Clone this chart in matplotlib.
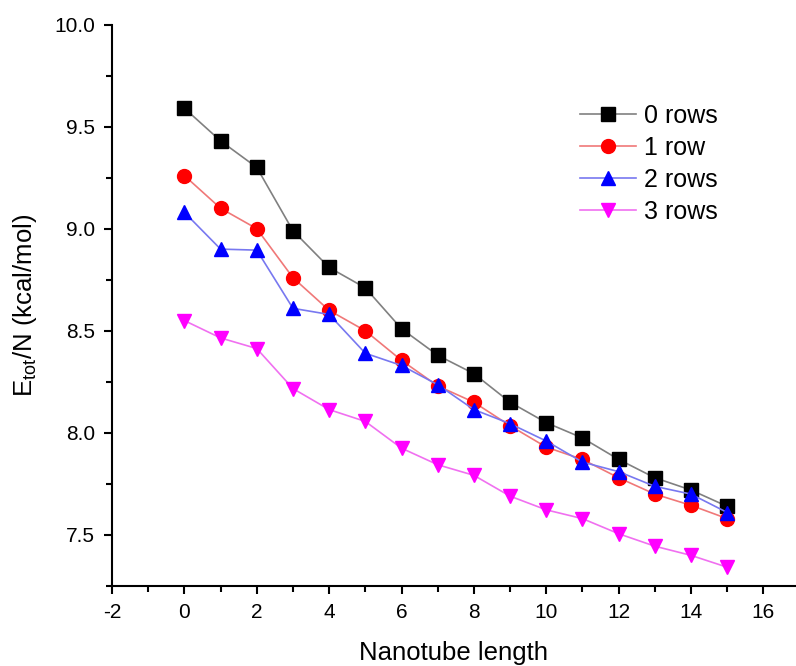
import matplotlib
matplotlib.use("Agg")
import matplotlib.pyplot as plt
from matplotlib.ticker import MultipleLocator, FormatStrFormatter

plt.rcParams['font.family'] = ['Liberation Sans', 'DejaVu Sans']
plt.rcParams['axes.unicode_minus'] = False

lengths = list(range(16))
rows0 = [9.59, 9.43, 9.30, 8.99, 8.81, 8.71, 8.51, 8.38, 8.29, 8.15, 8.05, 7.975, 7.87, 7.78, 7.72, 7.64]
rows1 = [9.26, 9.10, 9.00, 8.76, 8.60, 8.50, 8.355, 8.23, 8.15, 8.035, 7.93, 7.87, 7.78, 7.70, 7.645, 7.58]
rows2 = [9.08, 8.90, 8.895, 8.61, 8.58, 8.39, 8.33, 8.236, 8.114, 8.045, 7.96, 7.857, 7.81, 7.738, 7.70, 7.61]
rows3 = [8.55, 8.465, 8.413, 8.217, 8.114, 8.056, 7.925, 7.844, 7.792, 7.69, 7.623, 7.58, 7.506, 7.445, 7.40, 7.342]
labels = ['0 rows', '1 row', '2 rows', '3 rows']

fig = plt.figure(figsize=(7.96, 6.66), dpi=100)
ax = fig.add_axes([0.1407, 0.1201, 0.8593, 0.8431])

series = [rows0, rows1, rows2, rows3]
markers = ['s', 'o', '^', 'v']
mcolors = ['black', '#ff0000', '#0000ff', '#ff00ff']
lcolors = ['#808080', '#f07878', '#7878f0', '#f070f0']
msizes = [9.5, 10, 10.5, 10.5]

for ys, m, mc, lc, ms, lab in zip(series, markers, mcolors, lcolors, msizes, labels):
    ax.plot(lengths, ys, color=lc, linewidth=1.2, marker=m, markersize=ms,
            markerfacecolor=mc, markeredgecolor=mc, label=lab)

ax.set_xlim(-2, 16.9)
ax.set_ylim(7.25, 10.0)
ax.xaxis.set_major_locator(MultipleLocator(2))
ax.xaxis.set_minor_locator(MultipleLocator(1))
ax.yaxis.set_major_locator(MultipleLocator(0.5))
ax.yaxis.set_minor_locator(MultipleLocator(0.25))
ax.yaxis.set_major_formatter(FormatStrFormatter('%.1f'))

for s in ['top', 'right']:
    ax.spines[s].set_visible(False)
for s in ['left', 'bottom']:
    ax.spines[s].set_linewidth(1.5)

ax.tick_params(which='major', direction='out', length=6, width=1.5, labelsize=15, pad=6)
ax.tick_params(which='minor', direction='out', length=4, width=1.5)

ax.set_xlabel('Nanotube length', fontsize=18.5, labelpad=14)
ax.set_ylabel(r'E$_{\mathregular{tot}}$/N (kcal/mol)', fontsize=18.5, labelpad=11)

leg = ax.legend(loc='upper left', bbox_to_anchor=(0.684, 0.858), frameon=False,
                fontsize=18, handlelength=2.24, handletextpad=0.32, labelspacing=0.32,
                borderpad=0, borderaxespad=0)

fig.savefig('out.png', dpi=100)
